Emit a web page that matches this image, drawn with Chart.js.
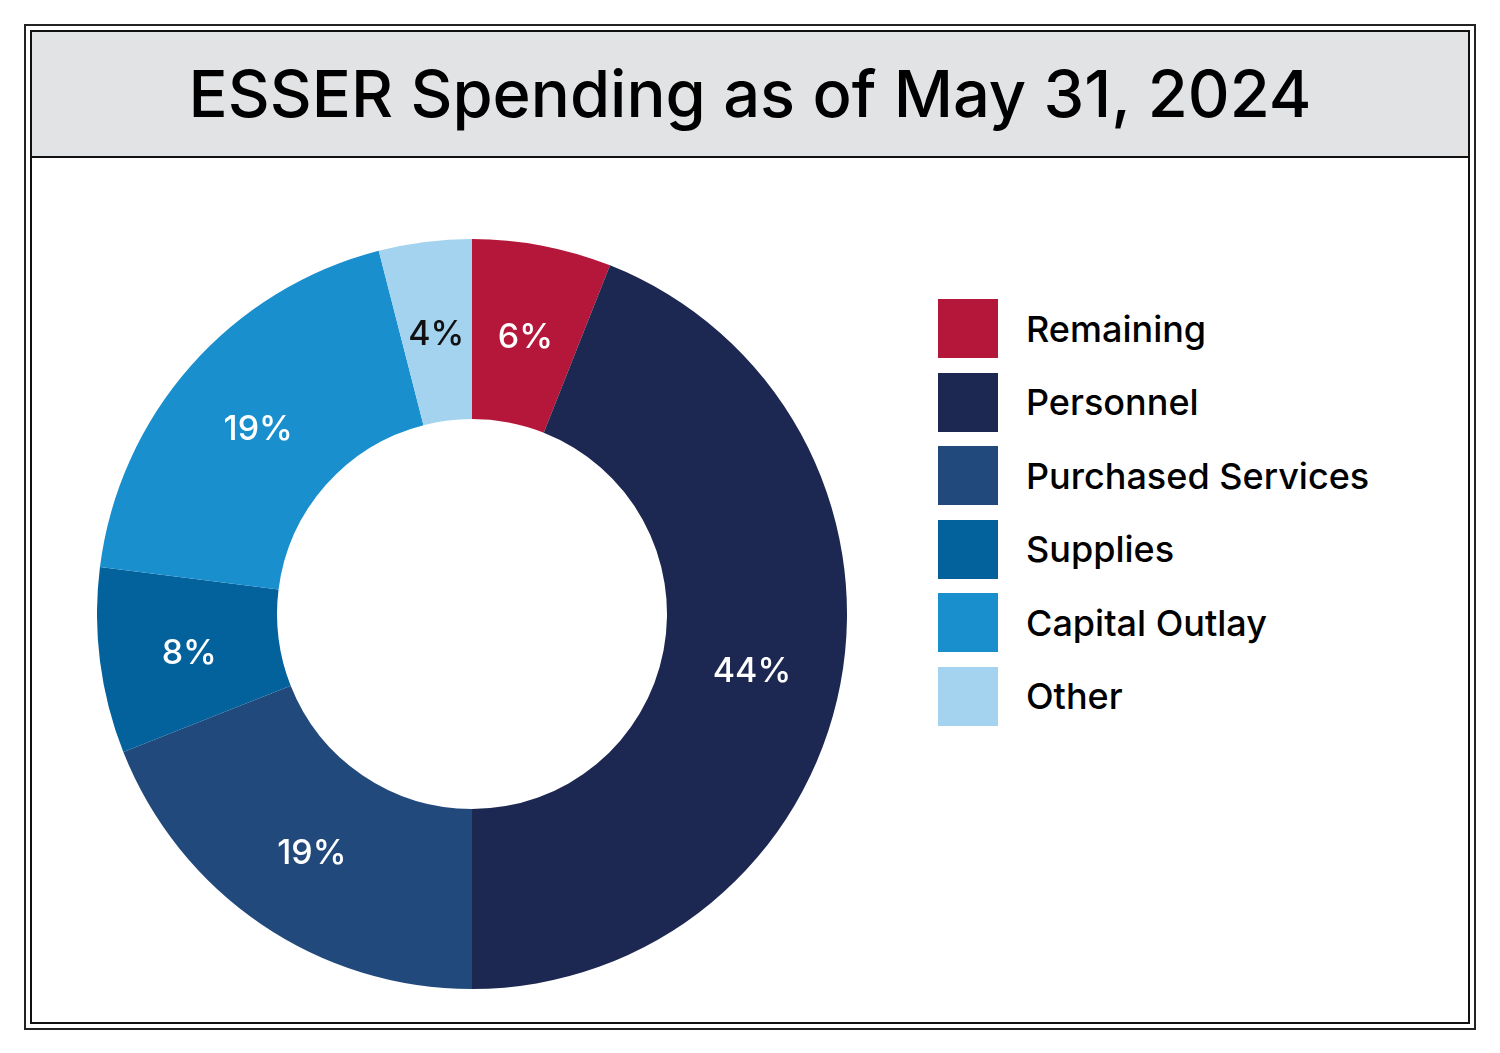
<!DOCTYPE html>
<html lang="en">
<head>
  <meta charset="UTF-8" />
  <title>ESSER Spending</title>
  <script src="https://cdn.jsdelivr.net/npm/chart.js@4.4.8/dist/chart.umd.min.js"></script>
  <style>
    body { margin: 0; background: #fff; font-family: 'Inter', 'Open Sans', sans-serif; }
    .outer { position: absolute; left: 24px; top: 24px; width: 1448px; height: 1002px; border: 2px solid #222; }
    .inner { position: absolute; left: 4px; top: 4px; right: 4px; bottom: 4px; border: 2px solid #111; }
    .title { height: 124px; background: #e2e3e5; border-bottom: 2px solid #111; text-align: center;
             font-size: 65px; font-weight: 500; line-height: 124px; color: #000; }
    #wrap { position: absolute; left: 97px; top: 239px; width: 750px; height: 750px; }
    #legend { position: absolute; left: 938px; top: 292px; }
    .row { display: flex; align-items: center; height: 73.5px; }
    .box { width: 60px; height: 59px; margin-right: 28px; }
    .lbl { font-size: 36px; font-weight: 500; color: #000; }
  </style>
</head>
<body>
  <div class="outer"><div class="inner"><div class="title">ESSER Spending as of May 31, 2024</div></div></div>
  <div id="wrap"><canvas id="c"></canvas></div>
  <div id="legend"></div>
  <script>
    const categories = ['Remaining', 'Personnel', 'Purchased Services', 'Supplies', 'Capital Outlay', 'Other'];
    const shares = [6, 44, 19, 8, 19, 4];
    const colors = ['#b5173a', '#1c2851', '#22497b', '#03619c', '#1a8fce', '#a3d3ef'];
    const labelColors = ['#fff', '#fff', '#fff', '#fff', '#fff', '#111'];

    const legend = document.getElementById('legend');
    categories.forEach((c, i) => {
      legend.innerHTML += '<div class="row"><div class="box" style="background:' + colors[i] + '"></div><div class="lbl">' + c + '</div></div>';
    });

    // percentage labels in the middle of each ring segment
    const sliceLabels = {
      id: 'sliceLabels',
      afterDatasetsDraw(chart) {
        const ctx = chart.ctx;
        chart.getDatasetMeta(0).data.forEach((arc, i) => {
          const p = arc.tooltipPosition();
          ctx.save();
          ctx.font = '500 34px Inter, sans-serif';
          ctx.fillStyle = labelColors[i];
          ctx.textAlign = 'center';
          ctx.textBaseline = 'middle';
          ctx.fillText(shares[i] + '%', p.x, p.y + 4);
          ctx.restore();
        });
      }
    };

    new Chart(document.getElementById('c'), {
      type: 'doughnut',
      data: { labels: categories, datasets: [{ data: shares, backgroundColor: colors, borderWidth: 0 }] },
      options: {
        responsive: true, maintainAspectRatio: false, animation: false, cutout: '52%',
        plugins: { legend: { display: false }, tooltip: { enabled: false } }
      },
      plugins: [sliceLabels]
    });
  </script>
</body>
</html>
